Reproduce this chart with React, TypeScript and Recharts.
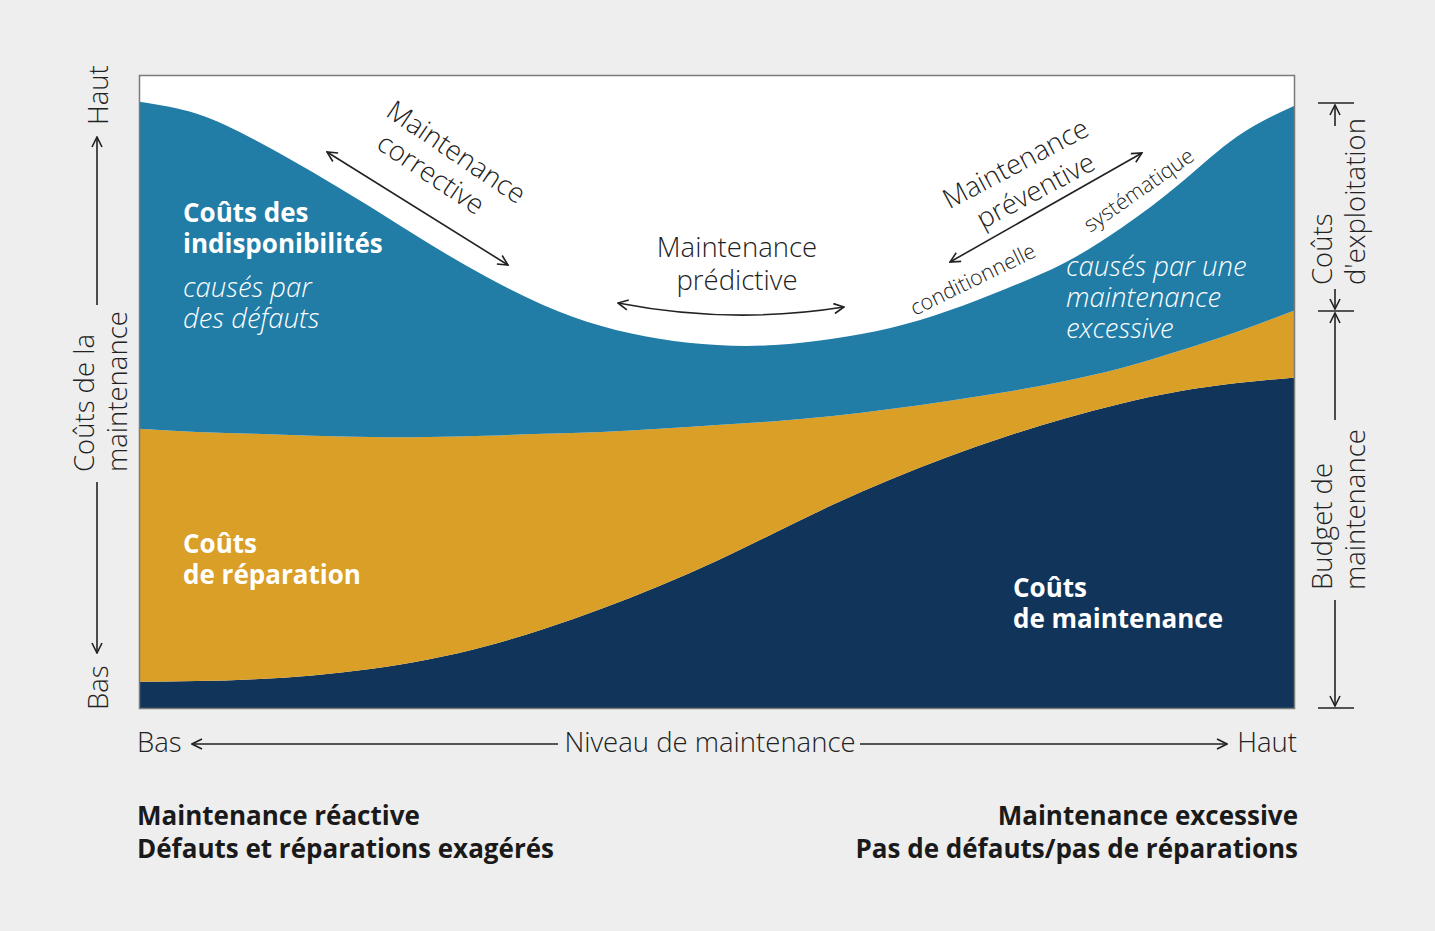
import React from 'react'
import { AreaChart, Area, XAxis, YAxis, CartesianGrid } from 'recharts'

// maintenance level, from low (0) to high (20)
const levels = [0, 1, 2, 3, 4, 5, 6, 7, 8, 9, 10, 11, 12, 13, 14, 15, 16, 17, 18, 19, 20]

// stacked cost layers, bottom to top (share of the height, 0-100)
const maintenanceCosts = [4.3, 4.4, 4.7, 5.3, 6.3, 7.8, 9.9, 12.6, 15.8, 19.4, 23.4, 27.8, 32.2, 36.2, 39.8, 43.0, 45.8, 48.2, 50.1, 51.4, 52.3]
const repairCosts = [39.9, 39.3, 38.7, 37.8, 36.6, 35.1, 33.2, 30.8, 27.9, 24.8, 21.4, 17.6, 14.0, 11.1, 8.8, 7.0, 5.9, 5.6, 6.4, 8.1, 10.6]
const downtimeCosts = [51.6, 50.2, 46.4, 41.6, 36.3, 30.6, 25.1, 20.3, 16.7, 14.2, 12.6, 12.0, 12.2, 12.8, 14.2, 16.3, 18.6, 22.1, 26.3, 30.8, 32.3]

const data = levels.map((level, i) => ({
  level,
  maintenance: maintenanceCosts[i],
  repair: repairCosts[i],
  downtime: downtimeCosts[i],
}))

const W = 1435
const H = 931
const FONT = '"Open Sans", Lato, sans-serif'
const INK = '#222'
const FS = 26 // bold labels
const FL = 27.5 // light labels

const NAVY = '#11355a'
const GOLD = '#da9f26'
const BLUE = '#217ca6'

function Overlay() {
  const light = { fontFamily: FONT, fontWeight: 300, fill: INK }
  const bold = { fontFamily: FONT, fontWeight: 700 }
  const italic = { fontFamily: FONT, fontWeight: 300, fontStyle: 'italic' as const }
  return (
    <svg
      width={W}
      height={H}
      style={{ position: 'absolute', left: 0, top: 0, pointerEvents: 'none' }}
    >
      <defs>
        <marker id="head" viewBox="0 0 12 12" refX="11" refY="6" markerWidth="12" markerHeight="12" orient="auto-start-reverse" markerUnits="userSpaceOnUse">
          <path d="M1,1 L11,6 L1,11" fill="none" stroke={INK} strokeWidth={1.6} />
        </marker>
      </defs>

      {/* plot frame */}
      <rect x={139.5} y={75.5} width={1155} height={633} fill="none" stroke="#7a7a7a" strokeWidth={1.5} />

      {/* labels inside the areas */}
      <text x={183} y={222} fontSize={FS} fill="#fff" style={bold}>Coûts des</text>
      <text x={183} y={253} fontSize={FS} fill="#fff" style={bold}>indisponibilités</text>
      <text x={183} y={297} fontSize={FL} fill="#fff" style={italic}>causés par</text>
      <text x={183} y={328} fontSize={FL} fill="#fff" style={italic}>des défauts</text>

      <text x={183} y={553} fontSize={FS} fill="#fff" style={bold}>Coûts</text>
      <text x={183} y={584} fontSize={FS} fill="#fff" style={bold}>de réparation</text>

      <text x={1013} y={597} fontSize={FS} fill="#fff" style={bold}>Coûts</text>
      <text x={1013} y={628} fontSize={FS} fill="#fff" style={bold}>de maintenance</text>

      <text x={1066} y={276} fontSize={FL} fill="#fff" style={italic}>causés par une</text>
      <text x={1066} y={307} fontSize={FL} fill="#fff" style={italic}>maintenance</text>
      <text x={1066} y={338} fontSize={FL} fill="#fff" style={italic}>excessive</text>

      {/* predictive */}
      <text x={737} y={257} fontSize={FL} textAnchor="middle" style={light}>Maintenance</text>
      <text x={737} y={290} fontSize={FL} textAnchor="middle" style={light}>prédictive</text>
      <path d="M618,303 Q731,325 844,307" fill="none" stroke={INK} strokeWidth={1.6} markerStart="url(#head)" markerEnd="url(#head)" />

      {/* corrective */}
      <g transform="translate(451,160) rotate(34)">
        <text x={0} y={0} fontSize={FL} textAnchor="middle" style={light}>Maintenance</text>
        <text x={-9} y={32} fontSize={FL} textAnchor="middle" style={light}>corrective</text>
      </g>
      <line x1={327} y1={152} x2={508} y2={265} stroke={INK} strokeWidth={1.6} markerStart="url(#head)" markerEnd="url(#head)" />

      {/* preventive */}
      <g transform="translate(1020,172) rotate(-28)">
        <text x={0} y={0} fontSize={FL} textAnchor="middle" style={light}>Maintenance</text>
        <text x={5} y={33} fontSize={FL} textAnchor="middle" style={light}>préventive</text>
      </g>
      <line x1={950} y1={262} x2={1142} y2={153} stroke={INK} strokeWidth={1.6} markerStart="url(#head)" markerEnd="url(#head)" />
      <text transform="translate(976,286) rotate(-26)" fontSize={21.5} textAnchor="middle" style={light}>conditionnelle</text>
      <text transform="translate(1143,196) rotate(-35)" fontSize={21.5} textAnchor="middle" style={light}>systématique</text>

      {/* left axis */}
      <text transform="translate(108,125) rotate(-90)" fontSize={FL} style={light}>Haut</text>
      <text transform="translate(108,710) rotate(-90)" fontSize={FL} style={light}>Bas</text>
      <text transform="translate(94,472) rotate(-90)" fontSize={FL} style={light}>Coûts de la</text>
      <text transform="translate(127,472) rotate(-90)" fontSize={FL} style={light}>maintenance</text>
      <line x1={97} y1={305} x2={97} y2={137} stroke={INK} strokeWidth={1.6} markerEnd="url(#head)" />
      <line x1={97} y1={482} x2={97} y2={653} stroke={INK} strokeWidth={1.6} markerEnd="url(#head)" />

      {/* right axis */}
      <line x1={1318} y1={103} x2={1354} y2={103} stroke={INK} strokeWidth={1.6} />
      <line x1={1318} y1={311} x2={1354} y2={311} stroke={INK} strokeWidth={1.6} />
      <line x1={1318} y1={708} x2={1354} y2={708} stroke={INK} strokeWidth={1.6} />
      <line x1={1335} y1={126} x2={1335} y2={105} stroke={INK} strokeWidth={1.6} markerEnd="url(#head)" />
      <line x1={1335} y1={289} x2={1335} y2={309} stroke={INK} strokeWidth={1.6} markerEnd="url(#head)" />
      <line x1={1335} y1={420} x2={1335} y2={313} stroke={INK} strokeWidth={1.6} markerEnd="url(#head)" />
      <line x1={1335} y1={600} x2={1335} y2={706} stroke={INK} strokeWidth={1.6} markerEnd="url(#head)" />
      <text transform="translate(1332,285) rotate(-90)" fontSize={FL} style={light}>Coûts</text>
      <text transform="translate(1365,285) rotate(-90)" fontSize={FL} style={light}>d'exploitation</text>
      <text transform="translate(1332,590) rotate(-90)" fontSize={FL} style={light}>Budget de</text>
      <text transform="translate(1365,590) rotate(-90)" fontSize={FL} style={light}>maintenance</text>

      {/* bottom axis */}
      <text x={137} y={752} fontSize={FL} style={light}>Bas</text>
      <text x={710} y={752} fontSize={FL} textAnchor="middle" style={light}>Niveau de maintenance</text>
      <text x={1297} y={752} fontSize={FL} textAnchor="end" style={light}>Haut</text>
      <line x1={558} y1={744} x2={192} y2={744} stroke={INK} strokeWidth={1.6} markerEnd="url(#head)" />
      <line x1={860} y1={744} x2={1227} y2={744} stroke={INK} strokeWidth={1.6} markerEnd="url(#head)" />

      {/* bottom captions */}
      <text x={137} y={825} fontSize={FS} fill="#1a1a1a" style={bold}>Maintenance réactive</text>
      <text x={137} y={858} fontSize={FS} fill="#1a1a1a" style={bold}>Défauts et réparations exagérés</text>
      <text x={1298} y={825} fontSize={FS} fill="#1a1a1a" textAnchor="end" style={bold}>Maintenance excessive</text>
      <text x={1298} y={858} fontSize={FS} fill="#1a1a1a" textAnchor="end" style={bold}>Pas de défauts/pas de réparations</text>
    </svg>
  )
}

export default function App() {
  return (
    <div style={{ position: 'absolute', left: 0, top: 0, width: W, height: H, background: '#eeeeee' }}>
      <AreaChart width={W} height={H} data={data} margin={{ top: 75, right: 140, bottom: 222, left: 139 }}>
        <CartesianGrid fill="#ffffff" horizontal={false} vertical={false} />
        <XAxis dataKey="level" type="number" domain={[0, 20]} hide />
        <YAxis type="number" domain={[0, 100]} hide />
        <Area type="natural" dataKey="maintenance" stackId="c" stroke="none" fill={NAVY} fillOpacity={1} isAnimationActive={false} />
        <Area type="natural" dataKey="repair" stackId="c" stroke="none" fill={GOLD} fillOpacity={1} isAnimationActive={false} />
        <Area type="natural" dataKey="downtime" stackId="c" stroke="none" fill={BLUE} fillOpacity={1} isAnimationActive={false} />
      </AreaChart>
      <Overlay />
    </div>
  )
}
